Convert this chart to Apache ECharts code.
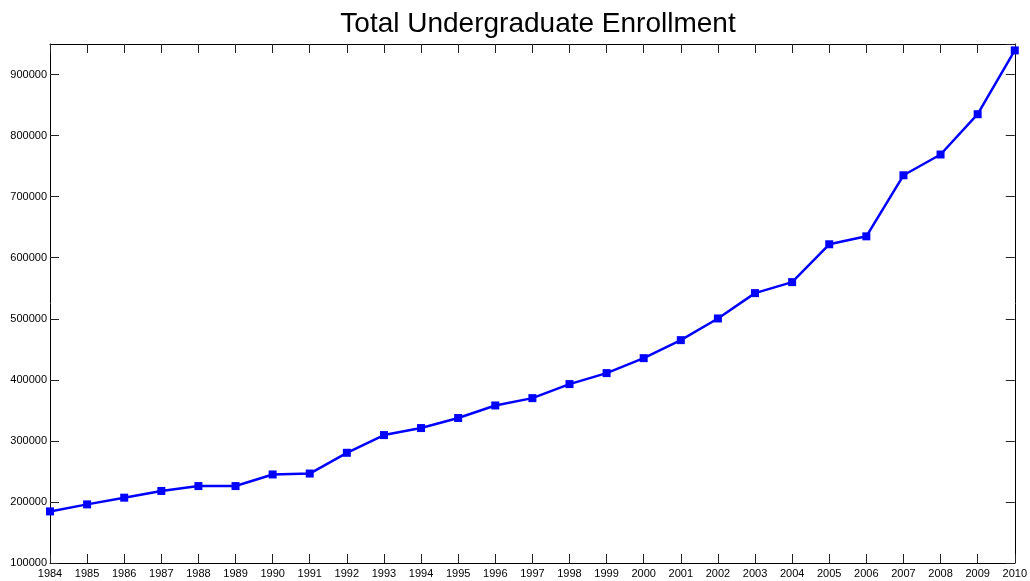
<!DOCTYPE html>
<html>
<head>
<meta charset="utf-8">
<script src="https://cdn.jsdelivr.net/npm/echarts@6/dist/echarts.min.js"></script>
<style>
  html, body { margin: 0; padding: 0; background: #fff; }
  #chart { width: 1030px; height: 581px; }
</style>
</head>
<body>
<div id="chart"></div>
<script>
const years = ['1984', '1985', '1986', '1987', '1988', '1989', '1990', '1991', '1992',
    '1993', '1994', '1995', '1996', '1997', '1998', '1999', '2000', '2001', '2002',
    '2003', '2004', '2005', '2006', '2007', '2008', '2009', '2010']
const enrollment = [184500, 196000, 207000, 218000, 226000, 226000, 245000, 246500, 280500,
    309500, 321000, 337500, 358000, 370000, 393000, 411000, 435500, 465000, 500500,
    542000, 560000, 622000, 635000, 735000, 769000, 835000, 939500]
const yMin = 100000
const yMax = 950000
const yStep = 100000

const myChart = echarts.init(document.getElementById('chart'))

const font = 'Liberation Sans, Arial, Helvetica, sans-serif'
const axisLine = { show: true, onZero: false, lineStyle: { color: '#000', width: 1 } }
const tick = { show: true, inside: true, length: 9, lineStyle: { color: '#222', width: 1 } }

const option = {
    animation: false,
    title: {
        text: 'Total Undergraduate Enrollment',
        left: 533,
        textAlign: 'center',
        top: 5,
        textStyle: { fontFamily: font, fontSize: 28, fontWeight: 'normal', color: '#000' }
    },
    grid: { left: 50, right: 11, top: 44, bottom: 18 },
    xAxis: [
        {
            type: 'category',
            data: years,
            boundaryGap: false,
            position: 'bottom',
            axisLine,
            axisTick: tick,
            axisLabel: { color: '#000', fontFamily: font, fontSize: 11, margin: 5 },
            splitLine: { show: false }
        },
        {
            type: 'category',
            data: years,
            boundaryGap: false,
            position: 'top',
            axisLine,
            axisTick: tick,
            axisLabel: { show: false },
            splitLine: { show: false }
        }
    ],
    yAxis: [
        {
            type: 'value',
            min: yMin,
            max: yMax,
            interval: yStep,
            position: 'left',
            axisLine,
            axisTick: tick,
            axisLabel: {
                color: '#000', fontFamily: font, fontSize: 11, margin: 3,
                showMaxLabel: false,
                formatter: v => String(v)
            },
            splitLine: { show: false }
        },
        {
            type: 'value',
            min: yMin,
            max: yMax,
            interval: yStep,
            position: 'right',
            axisLine,
            axisTick: tick,
            axisLabel: { show: false },
            splitLine: { show: false }
        }
    ],
    series: [
        {
            type: 'line',
            data: enrollment,
            symbol: 'rect',
            symbolSize: 8,
            color: '#0000ff',
            lineStyle: { width: 2.5, color: '#0000ff' },
            itemStyle: { color: '#0000ff' },
            clip: false
        }
    ]
}

myChart.setOption(option)
</script>
</body>
</html>
